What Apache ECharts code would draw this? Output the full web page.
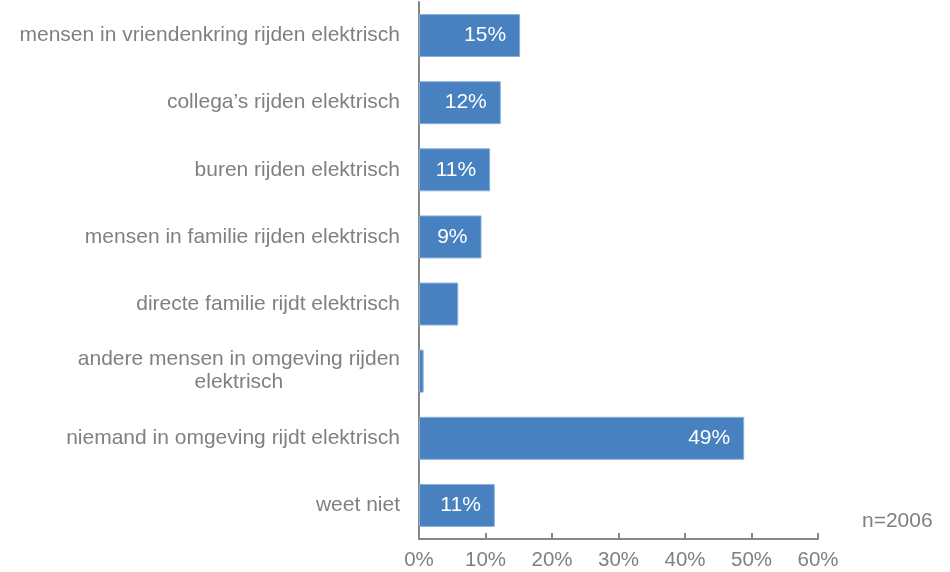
<!DOCTYPE html>
<html>
<head>
<meta charset="utf-8">
<script src="https://cdn.jsdelivr.net/npm/echarts@6/dist/echarts.min.js"></script>
<style>
	html, body { margin: 0; padding: 0; background: #fff; }
	#chart { width: 950px; height: 572px; }
</style>
</head>
<body>
<div id="chart"></div>
<script>
// categorieën (van boven naar beneden)
var categories = [
	'mensen in vriendenkring rijden elektrisch',
	'collega\u2019s rijden elektrisch',
	'buren rijden elektrisch',
	'mensen in familie rijden elektrisch',
	'directe familie rijdt elektrisch',
	'andere mensen in omgeving rijden\nelektrisch',
	'niemand in omgeving rijdt elektrisch',
	'weet niet'
];
// percentages
var values = [15.2, 12.3, 10.7, 9.4, 5.9, 0.7, 48.9, 11.4];
var xTicks = [0, 10, 20, 30, 40, 50, 60];
var sampleNote = 'n=2006';

var grey = '#808080';
var font = 'Liberation Sans, Arial';
var chart = echarts.init(document.getElementById('chart'));

var option = {
	animation: false,
	grid: {
		left: 419,
		right: 132,
		top: 2,
		bottom: 33
	},
	xAxis: {
		type: 'value',
		min: xTicks[0],
		max: xTicks[xTicks.length - 1],
		interval: xTicks[1] - xTicks[0],
		splitLine: { show: false },
		axisLine: { show: true, lineStyle: { color: '#868686', width: 2 } },
		axisTick: { show: true, inside: true, length: 6, lineStyle: { color: '#868686', width: 2 } },
		axisLabel: {
			color: grey,
			fontSize: 20.5,
			fontFamily: font,
			margin: 11,
			formatter: '{value}%'
		}
	},
	yAxis: {
		type: 'category',
		inverse: true,
		data: categories,
		axisLine: { show: true, lineStyle: { color: '#868686', width: 2 } },
		axisTick: { show: false },
		axisLabel: {
			margin: 19,
			formatter: function (v) {
				return v.split('\n').map(function (s) { return '{c|' + s + '}'; }).join('\n');
			},
			rich: {
				c: {
					color: grey,
					fontSize: 21,
					fontFamily: font,
					lineHeight: 23,
					align: 'center'
				}
			}
		}
	},
	series: [{
		type: 'bar',
		data: values,
		barCategoryGap: '36%',
		itemStyle: {
			color: '#4781BF',
			borderColor: '#8AAEDB',
			borderWidth: 1
		},
		label: {
			show: true,
			position: 'insideRight',
			distance: 14,
			color: '#fff',
			fontSize: 21,
			fontFamily: font,
			formatter: function (p) {
				return p.value < 8 ? '' : Math.round(p.value) + '%';
			}
		}
	}],
	graphic: [{
		type: 'text',
		left: 862,
		top: 511,
		style: {
			text: sampleNote,
			fill: grey,
			fontSize: 21,
			fontFamily: font
		}
	}]
};

chart.setOption(option);
</script>
</body>
</html>
